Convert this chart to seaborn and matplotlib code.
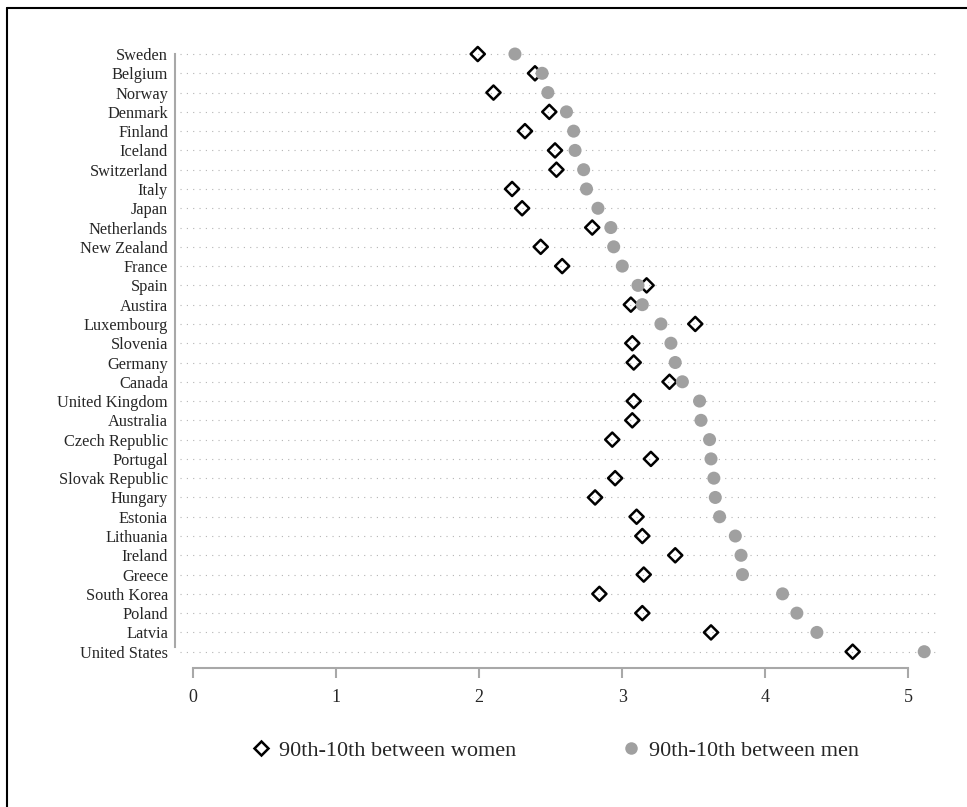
import pandas as pd
import seaborn as sns
import matplotlib.pyplot as plt
from matplotlib.lines import Line2D

countries = ["Sweden", "Belgium", "Norway", "Denmark", "Finland", "Iceland",
             "Switzerland", "Italy", "Japan", "Netherlands", "New Zealand",
             "France", "Spain", "Austira", "Luxembourg", "Slovenia", "Germany",
             "Canada", "United Kingdom", "Australia", "Czech Republic",
             "Portugal", "Slovak Republic", "Hungary", "Estonia", "Lithuania",
             "Ireland", "Greece", "South Korea", "Poland", "Latvia",
             "United States"]
women = [1.99, 2.39, 2.10, 2.49, 2.32, 2.53, 2.54, 2.23, 2.30, 2.79, 2.43,
         2.58, 3.17, 3.06, 3.51, 3.07, 3.08, 3.33, 3.08, 3.07, 2.93, 3.20,
         2.95, 2.81, 3.10, 3.14, 3.37, 3.15, 2.84, 3.14, 3.62, 4.61]
men = [2.25, 2.44, 2.48, 2.61, 2.66, 2.67, 2.73, 2.75, 2.83, 2.92, 2.94,
       3.00, 3.11, 3.14, 3.27, 3.34, 3.37, 3.42, 3.54, 3.55, 3.61, 3.62,
       3.64, 3.65, 3.68, 3.79, 3.83, 3.84, 4.12, 4.22, 4.36, 5.11]
xticks = [0, 1, 2, 3, 4, 5]
labels = ["90th-10th between women", "90th-10th between men"]

df = pd.DataFrame({"country": countries, "women": women, "men": men})

sns.set_style("white")
plt.rcParams['font.family'] = ['Liberation Serif', 'DejaVu Serif']

fig = plt.figure(figsize=(9.67, 8.07), dpi=100)
ax = fig.add_axes([0.1861, 0.1805, 0.971 - 0.1861, 0.945 - 0.1805])

pos = list(range(len(countries)))
sns.scatterplot(x=df["women"], y=pos, marker="D", s=52, facecolor="none",
                edgecolor="black", linewidth=1.8, ax=ax, zorder=3)
sns.scatterplot(x=df["men"], y=pos, marker="o", s=88, color="#a0a0a0",
                edgecolor="none", linewidth=0, ax=ax, zorder=4)

ax.set_ylim(len(countries) - 0.5, -0.5)
ax.set_xlim(-0.091, 5.213)
ax.set_yticks(pos)
ax.set_yticklabels(countries)
ax.set_xticks(xticks)
ax.set_xticklabels([str(t) for t in xticks])
ax.set_xlabel("")
ax.set_ylabel("")

ax.grid(axis="y", linestyle=(0, (1, 4.7)), color="#b4b4b4", linewidth=0.8)
ax.grid(axis="x", visible=False)

for s in ["top", "right"]:
    ax.spines[s].set_visible(False)
ax.spines["left"].set_position(("outward", 3.6))
ax.spines["bottom"].set_position(("outward", 5))
ax.spines["left"].set_bounds(len(countries) - 1.25, 0)
ax.spines["bottom"].set_bounds(0, 5)
for s in ["left", "bottom"]:
    ax.spines[s].set_color("#a8a8a8")
    ax.spines[s].set_linewidth(1.5)

ax.tick_params(axis="y", length=0, pad=5, labelsize=11.8)
ax.tick_params(axis="x", length=7.2, width=1.5, color="#a8a8a8", pad=8,
               direction="out", bottom=True, labelsize=13)

handles = [
    Line2D([], [], linestyle="none", marker="D", markersize=7.5,
           markerfacecolor="none", markeredgecolor="black", markeredgewidth=1.8),
    Line2D([], [], linestyle="none", marker="o", markersize=9,
           markerfacecolor="#a0a0a0", markeredgecolor="none"),
]
fig.legend(handles, labels, loc="center", bbox_to_anchor=(0.5745, 0.0694),
           ncol=2, frameon=False, fontsize=16, handlelength=0.8,
           handletextpad=0.4, columnspacing=4.8)

# outer frame (left and top edges)
fig.add_artist(Line2D([7 / 967, 7 / 967], [0, 1 - 8 / 807], color="black",
                      linewidth=1.5, transform=fig.transFigure))
fig.add_artist(Line2D([7 / 967, 1], [1 - 8 / 807, 1 - 8 / 807], color="black",
                      linewidth=1.5, transform=fig.transFigure))

fig.savefig("out.png", dpi=100)
